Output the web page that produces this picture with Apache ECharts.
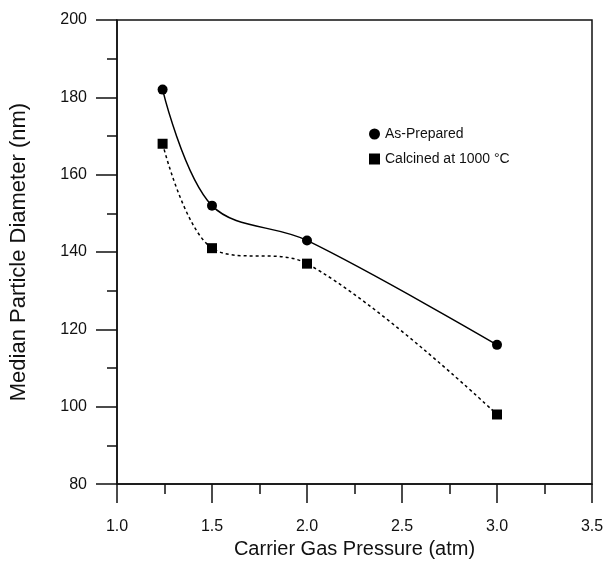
<!DOCTYPE html>
<html>
<head>
<meta charset="utf-8">
<script src="https://cdn.jsdelivr.net/npm/echarts@6/dist/echarts.min.js"></script>
<style>
html,body{margin:0;padding:0;background:#fff;}
#chart{width:607px;height:564px;}
</style>
</head>
<body>
<div id="chart"></div>
<script>
// pressure (atm)
var pressure = [1.24, 1.5, 2.0, 3.0];
var asPrepared = [182, 152, 143, 116];
var calcined = [168, 141, 137, 98];
var seriesNames = ['As-Prepared', 'Calcined at 1000 °C'];

function pairs(xs, ys){
    return xs.map(function(x, i){ return [x, ys[i]]; });
}

var chart = echarts.init(document.getElementById('chart'));
var font = 'Liberation Sans, Arial, sans-serif';
chart.setOption({
    animation: false,
    grid: {
        left: 116, right: 15, top: 20, bottom: 76,
        show: true, borderColor: '#111', borderWidth: 1.5
    },
    legend: {
        orient: 'vertical',
        left: 364, top: 122,
        itemWidth: 11, itemHeight: 11, itemGap: 11,
        textStyle: {fontFamily: font, fontSize: 14, color: '#111'},
        data: [
            {name: seriesNames[0], icon: 'circle'},
            {name: seriesNames[1], icon: 'rect'}
        ]
    },
    xAxis: {
        type: 'value', min: 1.0, max: 3.5, interval: 0.5,
        name: 'Carrier Gas Pressure (atm)', nameLocation: 'middle', nameGap: 53,
        nameTextStyle: {fontFamily: font, fontSize: 20, color: '#111'},
        axisLine: {lineStyle: {color: '#111', width: 1.5}},
        axisTick: {length: 19, lineStyle: {color: '#111', width: 1.5}},
        minorTick: {show: true, splitNumber: 2, length: 10, lineStyle: {color: '#111', width: 1.5}},
        splitLine: {show: false},
        axisLabel: {margin: 34, fontFamily: font, fontSize: 16, color: '#111',
            formatter: function(v){ return v.toFixed(1); }}
    },
    yAxis: {
        type: 'value', min: 80, max: 200, interval: 20,
        name: 'Median Particle Diameter (nm)', nameLocation: 'middle', nameGap: 87,
        nameTextStyle: {fontFamily: font, fontSize: 22, color: '#111'},
        axisLine: {lineStyle: {color: '#111', width: 1.5}},
        axisTick: {length: 21, lineStyle: {color: '#111', width: 1.5}},
        minorTick: {show: true, splitNumber: 2, length: 10, lineStyle: {color: '#111', width: 1.5}},
        splitLine: {show: false},
        axisLabel: {margin: 30, fontFamily: font, fontSize: 16, color: '#111'}
    },
    series: [
        {
            name: seriesNames[0], type: 'line', smooth: 0.35,
            data: pairs(pressure, asPrepared),
            symbol: 'circle', symbolSize: 10,
            itemStyle: {color: '#000'},
            lineStyle: {color: '#000', width: 1.5}
        },
        {
            name: seriesNames[1], type: 'line', smooth: 0.35,
            data: pairs(pressure, calcined),
            symbol: 'rect', symbolSize: 10,
            itemStyle: {color: '#000'},
            lineStyle: {color: '#000', width: 1.5, type: [3, 3]}
        }
    ]
});
</script>
</body>
</html>
